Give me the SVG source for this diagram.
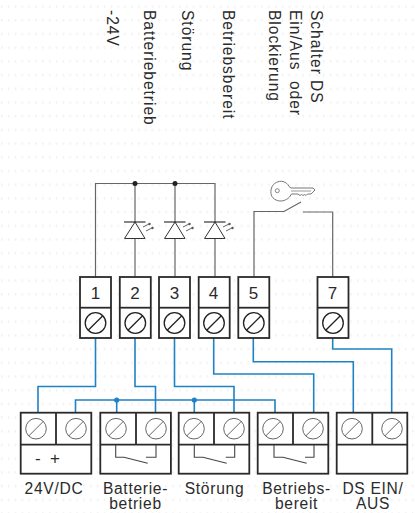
<svg xmlns="http://www.w3.org/2000/svg" width="415" height="513" viewBox="0 0 415 513">
<style>
text{font-family:"Liberation Sans",Arial,sans-serif;font-size:15.6px;fill:#2b2b2b;letter-spacing:.7px}
.m{text-anchor:middle}
.n{font-size:17px;letter-spacing:0}
.pm{font-size:17px;letter-spacing:0}
.v{letter-spacing:.95px}
.box{fill:#fff;stroke:#2a2a2a;stroke-width:1.8}
.sw{fill:none;stroke:#444;stroke-width:1.1}
.gr{fill:none;stroke:#666;stroke-width:1.2}
.bl{fill:none;stroke:#1f82c4;stroke-width:1.6}
.th{fill:#fff;stroke:#333;stroke-width:1}
</style>
<defs>
<pattern id="dots" width="6.85" height="13.7" patternUnits="userSpaceOnUse" y="5.3"><rect x="1" y="0" width="1.4" height="2.6" fill="#f0f0f0"/></pattern>
<g id="screw"><circle r="10.300" fill="#fff" stroke="#555" stroke-width=".9"/><line x1="-7.300" y1="7.300" x2="7.300" y2="-7.300" stroke="#555" stroke-width=".9"/></g>
<g id="screwT"><circle r="10.300" fill="#fff" stroke="#222" stroke-width="1.300"/><line x1="-7.300" y1="7.300" x2="7.300" y2="-7.300" stroke="#222" stroke-width="1.300"/></g>
<g id="led"><path class="th" d="M0 0L-10.500 16.500H10L0 0Z"/><path d="M-11 0H10.500" stroke="#222" stroke-width="1.100"/><path d="M8 5L14 2M11 9L17 6" stroke="#555" stroke-width=".9" fill="none"/><circle cx="14.500" cy="2" r="1.200" fill="#555"/><circle cx="17.500" cy="6" r="1.200" fill="#555"/></g>
</defs>
<rect width="415" height="513" fill="#fff"/>
<rect width="415" height="513" fill="url(#dots)"/>
<g id="connectors">
<path class="gr" d="M95.500 277V183.500H215V277M135 183.500V277M175 183.500V277"/>
<circle cx="135" cy="183.500" r="2.500" fill="#222"/><circle cx="175" cy="183.500" r="2.500" fill="#222"/>
<path class="gr" d="M254 277V211.500H284L301 202M303 212H332.700V277"/>
<path class="bl" d="M95.500 338V386.500H38V413M135 338V386.500H155.500V413M174.500 338V386.500H234V413M213.700 338V374H313.700V413M253.300 338V361.700H353.300V413M332.700 338V349H391.700V413M75.500 413V400H275V413M116.700 400V413M194.300 400V413"/>
<circle cx="116.700" cy="400" r="2.600" fill="#1f82c4"/><circle cx="194.300" cy="400" r="2.600" fill="#1f82c4"/>
</g>
<g id="leds"><use href="#led" x="135" y="222"/><use href="#led" x="175" y="222"/><use href="#led" x="215" y="222"/></g>
<g id="key"><path d="M289 186.500L291 188H313L315 190L311 194H307.500L306 195.500L304.500 194.500L303 195.500L301.500 194.500L300 195.500L298 194H291.500L289.500 197C286 201 280 202 276 200C271 197.500 270 193 271.500 188C273 183 279 180.500 283 181.500C286 182.500 288 184 289 186.500Z" fill="#fff" stroke="#777" stroke-width="1"/><circle cx="277.300" cy="190.700" r="2" fill="#fff" stroke="#777" stroke-width=".9"/><path d="M291 191H311" stroke="#999" stroke-width="1"/></g>
<g id="t1"><rect class="box" x="80" y="277" width="31" height="61"/><path class="box" d="M80 307.700H111"/><use href="#screwT" x="95.500" y="323"/><text class="m n" x="95.500" y="299.300">1</text></g>
<g id="t2"><rect class="box" x="119.800" y="277" width="31" height="61"/><path class="box" d="M119.800 307.700H150.800"/><use href="#screwT" x="135.300" y="323"/><text class="m n" x="135" y="299.300">2</text></g>
<g id="t3"><rect class="box" x="159" y="277" width="31" height="61"/><path class="box" d="M159 307.700H190"/><use href="#screwT" x="174.500" y="323"/><text class="m n" x="174.500" y="299.300">3</text></g>
<g id="t4"><rect class="box" x="198.700" y="277" width="31" height="61"/><path class="box" d="M198.700 307.700H229.700"/><use href="#screwT" x="214" y="323"/><text class="m n" x="213.500" y="299.300">4</text></g>
<g id="t5"><rect class="box" x="238.300" y="277" width="31" height="61"/><path class="box" d="M238.300 307.700H269.300"/><use href="#screwT" x="253.800" y="323"/><text class="m n" x="253.500" y="299.300">5</text></g>
<g id="t7"><rect class="box" x="317.500" y="277" width="31" height="61"/><path class="box" d="M317.500 307.700H348.500"/><use href="#screwT" x="333" y="323"/><text class="m n" x="332.500" y="299.300">7</text></g>
<g id="r1"><rect class="box" x="20.700" y="412.700" width="70.600" height="61"/><path class="box" d="M20.700 444.700H91.300M56 412.700V444.700"/><use href="#screw" x="36" y="428.700"/><use href="#screw" x="76" y="428.700"/><text class="pm" x="35" y="464">-</text><text class="pm" x="50" y="464">+</text><text class="m" x="54" y="494">24V/DC</text></g>
<g id="r2"><rect class="box" x="100.300" y="412.700" width="70.600" height="61"/><path class="box" d="M100.300 444.700H170.900M136 412.700V444.700"/><use href="#screw" x="116" y="428.700"/><use href="#screw" x="156" y="428.700"/><path class="sw" d="M115.700 445V457.300H124L147.700 463.300M146 457.300H156V445"/><text class="m" x="135.500" y="494">Batterie-</text><text class="m" x="135.500" y="509.300">betrieb</text></g>
<g id="r3"><rect class="box" x="178.700" y="412.700" width="70.600" height="61"/><path class="box" d="M178.700 444.700H249.300M214 412.700V444.700"/><use href="#screw" x="194" y="428.700"/><use href="#screw" x="234" y="428.700"/><path class="sw" d="M194.300 445V457.300H203L226.700 463.300M225.700 457.300H234.700V445"/><text class="m" x="214.500" y="494">Störung</text></g>
<g id="r4"><rect class="box" x="257.700" y="412.700" width="70.600" height="61"/><path class="box" d="M257.700 444.700H328.300M293 412.700V444.700"/><use href="#screw" x="273" y="428.700"/><use href="#screw" x="313" y="428.700"/><path class="sw" d="M274 445V457.300H283L306.700 463.300M305 457.300H314V445"/><text class="m" x="296.500" y="494">Betriebs-</text><text class="m" x="296.500" y="509.300">bereit</text></g>
<g id="r5"><rect class="box" x="336.700" y="412.700" width="70.600" height="61"/><path class="box" d="M336.700 444.700H407.300M372.300 412.700V444.700"/><use href="#screw" x="352" y="428.700"/><use href="#screw" x="392" y="428.700"/><text class="m" x="373" y="494">DS EIN/</text><text class="m" x="373" y="509.300">AUS</text></g>
<g id="labels">
<text class="v" transform="translate(311 10) rotate(90)">Schalter DS</text>
<text class="v" transform="translate(290 10) rotate(90)" xml:space="preserve">Ein/Aus  oder</text>
<text class="v" transform="translate(269.300 10) rotate(90)">Blockierung</text>
<text class="v" transform="translate(223 10) rotate(90)">Betriebsbereit</text>
<text class="v" transform="translate(182 10) rotate(90)">Störung</text>
<text class="v" transform="translate(144 10) rotate(90)">Batteriebetrieb</text>
<text class="v" transform="translate(106.700 10) rotate(90)">-24V</text>
</g>
</svg>
